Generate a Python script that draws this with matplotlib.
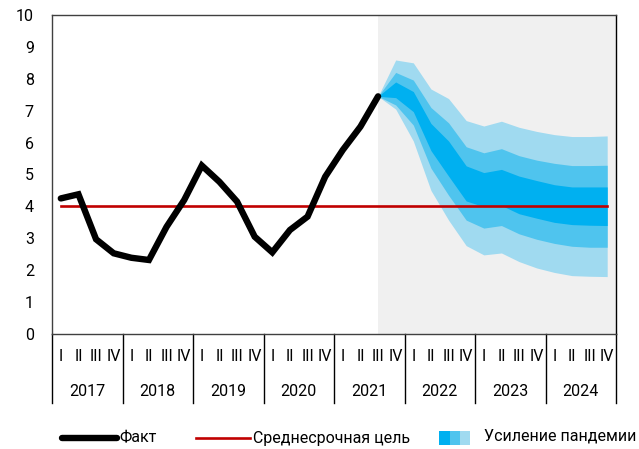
import matplotlib
matplotlib.use('Agg')
import matplotlib.pyplot as plt
import matplotlib.transforms as mtransforms
from matplotlib.lines import Line2D
from matplotlib.patches import Rectangle
import numpy as np

plt.rcParams['font.family'] = ['Roboto', 'DejaVu Sans']

years = ['2017', '2018', '2019', '2020', '2021', '2022', '2023', '2024']
quarters = ['I', 'II', 'III', 'IV']

# факт, 2017Q1..2021Q3
fact = [4.25, 4.38, 2.97, 2.53, 2.39, 2.32, 3.36, 4.2, 5.28, 4.77, 4.15, 3.05,
        2.56, 3.26, 3.68, 4.93, 5.77, 6.5, 7.45]
target = 4.0

# веер прогноза, 2021Q3..2024Q4
fan_outer_hi = [7.45, 8.59, 8.5, 7.68, 7.38, 6.69, 6.52, 6.67, 6.48, 6.35, 6.25, 6.19, 6.19, 6.21]
fan_mid_hi   = [7.45, 8.2, 7.96, 7.1, 6.62, 5.87, 5.68, 5.81, 5.59, 5.45, 5.35, 5.28, 5.28, 5.29]
fan_in_hi    = [7.45, 7.9, 7.6, 6.6, 6.05, 5.27, 5.06, 5.16, 4.95, 4.81, 4.68, 4.61, 4.61, 4.61]
fan_in_lo    = [7.45, 7.41, 6.97, 5.75, 4.95, 4.17, 3.99, 4.03, 3.77, 3.63, 3.5, 3.43, 3.41, 3.4]
fan_mid_lo   = [7.45, 7.18, 6.55, 5.2, 4.35, 3.57, 3.32, 3.4, 3.14, 2.97, 2.84, 2.75, 2.72, 2.72]
fan_outer_lo = [7.45, 7.05, 6.05, 4.5, 3.57, 2.77, 2.48, 2.54, 2.27, 2.07, 1.93, 1.83, 1.81, 1.8]

c_light = '#a0daf0'
c_mid = '#4fc4ee'
c_dark = '#00b0f0'

n = len(years) * 4
xq = np.arange(n) + 0.5
x_fact = xq[:len(fact)]
x_fan = xq[len(fact) - 1:]

fig = plt.figure(figsize=(6.39, 4.49), dpi=100)
ax = fig.add_axes([52 / 639, 1 - 334 / 449, 564 / 639, 319 / 449])

ax.axvspan(x_fan[0], n, color='#f0f0f0', lw=0, zorder=0)

ax.fill_between(x_fan, fan_outer_lo, fan_outer_hi, color=c_light, lw=0, zorder=1)
ax.fill_between(x_fan, fan_mid_lo, fan_mid_hi, color=c_mid, lw=0, zorder=2)
ax.fill_between(x_fan, fan_in_lo, fan_in_hi, color=c_dark, lw=0, zorder=3)

ax.plot([xq[0], xq[-1]], [target, target], color='#c00000', lw=1.9, zorder=4)
ax.plot(x_fact, fact, color='black', lw=4.6, solid_capstyle='round',
        solid_joinstyle='miter', zorder=5)

ax.set_xlim(0, n)
ax.set_ylim(0, 10)
ax.set_yticks(range(0, 11))
ax.tick_params(axis='y', length=0, labelsize=11.5, pad=13)
ax.set_xticks([])
for s in ax.spines.values():
    s.set_color('#404040')
    s.set_linewidth(1.0)
ax.spines['right'].set_color('black')

# подписи кварталов и годов под осью
trans = mtransforms.blended_transform_factory(ax.transData, ax.transAxes)
for i, x in enumerate(xq):
    ax.text(x, -0.07, quarters[i % 4], transform=trans, ha='center', va='center',
            fontsize=11.5)
for j, y in enumerate(years):
    ax.text(j * 4 + 2, -0.18, y, transform=trans, ha='center', va='center',
            fontsize=11.5)
for j in range(len(years) + 1):
    ax.plot([j * 4, j * 4], [0, -0.216], transform=trans, color='black',
            lw=1.0, clip_on=False)

# легенда
ly = 1 - 438 / 449
fig.add_artist(Line2D([62 / 639, 117 / 639], [ly, ly], color='black', lw=4.6,
                      solid_capstyle='round', transform=fig.transFigure))
fig.text(119 / 639, ly, 'Факт', ha='left', va='center', fontsize=11.5)
fig.add_artist(Line2D([196 / 639, 250 / 639], [ly, ly], color='#c00000', lw=1.9,
                      transform=fig.transFigure))
fig.text(253 / 639, ly, 'Среднесрочная цель', ha='left', va='center', fontsize=11.5)
for k, c in enumerate([c_dark, c_mid, c_light]):
    fig.add_artist(Rectangle(((439 + k * 10.5) / 639, ly - 7 / 449), 10.5 / 639, 14 / 449,
                             color=c, lw=0, transform=fig.transFigure))
fig.text(484 / 639, ly + 2 / 449, 'Усиление пандемии', ha='left', va='center', fontsize=11.5)

fig.savefig('out.png', dpi=100)
